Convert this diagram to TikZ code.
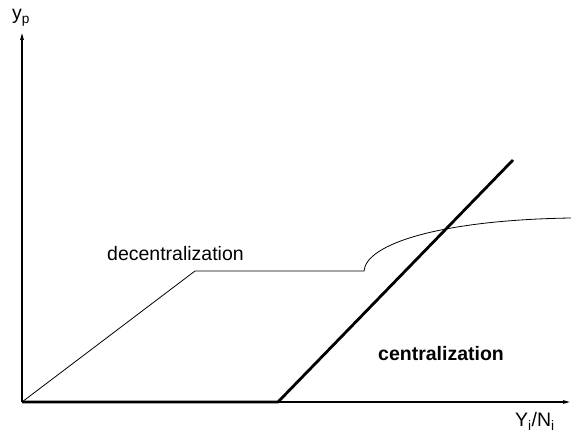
\documentclass[tikz,border=0pt]{standalone}
\usepackage{fontspec}
\setmainfont{Liberation Sans}
\usetikzlibrary{arrows.meta}
\begin{document}
\begin{tikzpicture}[x=1pt,y=1pt,
  axis/.style={line width=1.1pt,-{Triangle[length=7pt,width=3.5pt]}},
  thinline/.style={line width=0.8pt},
  thickline/.style={line width=2.8pt,line join=miter},
  lbl/.style={font=\fontsize{19.5}{22}\selectfont,inner sep=0pt}]
\useasboundingbox (0,0) rectangle (571,434);
\coordinate (O) at (22,32);
\coordinate (ytop) at (22,401);
\coordinate (xend) at (570,32);
\coordinate (c1) at (278,32);
\coordinate (c2) at (513,274);
\coordinate (d1) at (195,163);
\coordinate (d2) at (364,163);
\coordinate (d3) at (571,216);
\draw[axis] (O) -- (ytop);
\draw[axis] (O) -- (xend);
\draw[thinline] (O) -- (d1) -- (d2) .. controls (366,190) and (440,214) .. (d3);
\draw[thickline] (O) -- (c1) -- (c2);
\node[lbl,anchor=base west] (dec) at (107,173) {decentralization};
\node[lbl,anchor=base west,font=\fontsize{19.5}{22}\selectfont\bfseries] (cen) at (378,73) {centralization};
\node[lbl,anchor=base west] (yl) at (12,414) {y\textsubscript{p}};
\node[lbl,anchor=base west] (xl) at (515,7) {Y\textsubscript{i}/N\textsubscript{i}};
\end{tikzpicture}
\end{document}
